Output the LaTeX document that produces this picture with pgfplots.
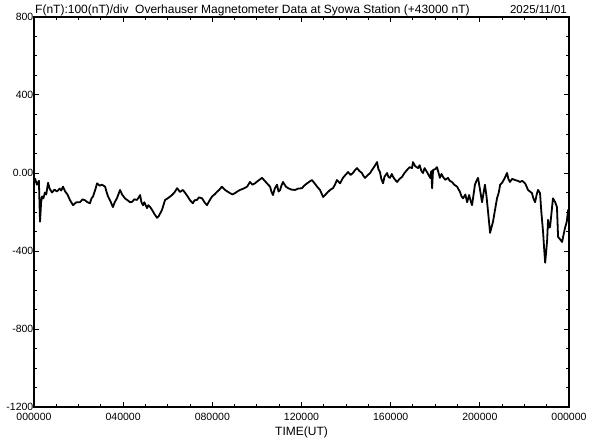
\documentclass[border=0pt]{standalone}
\usepackage{fontspec}
\setmainfont{Liberation Sans}
\usepackage{pgfplots}
\pgfplotsset{compat=1.18}

\begin{document}
\begin{tikzpicture}
\begin{axis}[
  name=ax,
  scale only axis,
  width=535pt, height=390pt,
  xmin=0, xmax=24, ymin=-1200, ymax=800,
  axis line style={line width=1.4pt},
  tick style={black, line width=1pt},
  tick align=inside,
  major tick length=5pt, minor tick length=3.5pt,
  xtick={0,4,8,12,16,20,24},
  xticklabels={000000,040000,080000,120000,160000,200000,000000},
  minor xtick={1,2,3,5,6,7,9,10,11,13,14,15,17,18,19,21,22,23},
  ytick={-1200,-800,-400,0,400,800},
  yticklabels={-1200,-800,-400,0.00,400,800},
  minor ytick={-1100,-1000,-900,-700,-600,-500,-300,-200,-100,100,200,300,500,600,700},
  xtick pos=both, ytick pos=both,
  xticklabel style={font=\fontsize{10.5}{12}\selectfont, inner sep=1pt, yshift=-5pt},
  yticklabel style={font=\fontsize{10.5}{12}\selectfont, inner sep=0.5pt},
  xlabel={TIME(UT)},
  xlabel style={font=\fontsize{12}{13}\selectfont, inner sep=0pt, yshift=-5pt},
]
\addplot[black, line width=1.8pt, line join=round] coordinates {
(0,-46)(0.05,-30)(0.13,-60)(0.22,-40)(0.27,-250)(0.32,-150)(0.36,-120)(0.42,-130)(0.49,-100)(0.55,-110)(0.63,-50)(0.7,-80)(0.81,-100)
(0.92,-85)(1.03,-95)(1.15,-80)(1.22,-90)(1.30,-70)(1.4,-95)(1.5,-110)(1.62,-140)(1.75,-165)(1.9,-150)(2.06,-150)(2.18,-135)(2.29,-140)(2.4,-150)(2.51,-155)(2.58,-130)(2.65,-120)
(2.75,-85)(2.83,-53)(2.95,-65)(3.05,-60)(3.19,-70)(3.25,-95)(3.32,-120)(3.45,-150)(3.54,-175)(3.62,-150)(3.72,-130)(3.86,-87)(3.95,-110)(4.08,-130)(4.2,-140)(4.31,-150)
(4.40,-148)(4.5,-135)(4.62,-138)(4.7,-125)(4.76,-113)(4.82,-150)(4.89,-165)(4.95,-150)(5.07,-180)(5.13,-165)(5.20,-173)(5.3,-190)(5.4,-210)(5.52,-230)(5.6,-220)(5.74,-190)(5.88,-138)
(6.0,-130)(6.19,-113)(6.3,-100)(6.42,-78)(6.55,-97)(6.68,-87)(6.8,-105)(6.91,-123)(7.0,-140)(7.13,-155)(7.2,-140)(7.31,-138)(7.4,-125)(7.54,-130)(7.65,-150)(7.76,-165)
(7.88,-140)(7.99,-120)(8.1,-110)(8.21,-97)(8.32,-85)(8.43,-70)(8.57,-87)(8.68,-95)(8.79,-103)(8.9,-110)(9.02,-103)(9.12,-95)(9.24,-87)(9.4,-80)(9.56,-70)(9.69,-46)
(9.8,-60)(9.91,-53)(10.05,-40)(10.23,-25)(10.35,-40)(10.45,-53)(10.59,-70)(10.65,-95)(10.72,-113)(10.8,-80)(10.90,-60)(10.97,-95)(11.04,-87)(11.1,-65)(11.17,-46)(11.3,-70)(11.40,-78)
(11.55,-85)(11.71,-87)(11.85,-80)(12.02,-78)(12.12,-65)(12.25,-53)(12.35,-45)(12.47,-36)(12.6,-55)(12.70,-70)(12.83,-87)(12.97,-123)(13.08,-110)(13.19,-97)(13.3,-85)(13.41,-78)
(13.5,-60)(13.59,-36)(13.73,-53)(13.86,-25)(13.97,-10)(14.09,5)(14.2,-10)(14.31,0)(14.4,15)(14.49,25)(14.6,10)(14.71,0)(14.78,-15)(14.85,-25)(14.98,-10)
(15.08,0)(15.16,15)(15.28,35)(15.39,56)(15.45,20)(15.52,5)(15.58,-30)(15.66,-53)(15.72,-20)(15.84,0)(15.9,-20)(15.97,-25)(16.05,-5)(16.11,-20)(16.2,-35)(16.29,-46)(16.4,-30)(16.51,-20)
(16.62,0)(16.73,15)(16.85,30)(16.96,25)(17.00,56)(17.1,35)(17.23,25)(17.3,40)(17.38,10)(17.45,0)(17.52,25)(17.63,5)(17.7,-10)(17.77,-25)(17.82,10)(17.86,-78)(17.90,15)
(18.0,20)(18.08,30)(18.15,0)(18.21,-25)(18.28,-5)(18.35,-20)(18.45,-35)(18.57,-25)(18.65,-40)(18.75,-46)(18.85,-60)(18.98,-70)(19.05,-85)(19.11,-97)(19.18,-120)(19.25,-130)(19.35,-110)(19.43,-150)
(19.52,-113)(19.58,-140)(19.65,-165)(19.72,-110)(19.78,-60)(19.85,-40)(19.92,-25)(20.0,-80)(20.10,-150)(20.17,-100)(20.23,-60)(20.3,-120)(20.37,-200)(20.46,-307)(20.52,-280)(20.59,-250)
(20.68,-190)(20.77,-130)(20.85,-100)(20.91,-60)(21.0,-50)(21.1,-30)(21.22,0)(21.28,-30)(21.35,-46)(21.45,-30)(21.58,-36)(21.7,-40)(21.80,-46)(21.9,-40)(22.03,-53)(22.1,-70)(22.16,-87)(22.25,-95)(22.34,-103)
(22.4,-130)(22.48,-150)(22.55,-110)(22.61,-87)(22.70,-103)(22.76,-200)(22.84,-307)(22.88,-380)(22.93,-460)(22.98,-400)(23.02,-343)(23.06,-240)(23.1,-280)(23.15,-277)(23.22,-200)(23.28,-130)
(23.38,-150)(23.46,-175)(23.51,-328)(23.6,-340)(23.69,-354)(23.75,-320)(23.82,-282)(23.9,-250)(23.96,-190)(24,-200)
};
\end{axis}
\node[anchor=base west, inner sep=0pt, font=\fontsize{12}{13}\selectfont]
  at ([xshift=1pt,yshift=3pt]ax.north west)
  {F(nT):100(nT)/div\ \ Overhauser Magnetometer Data at Syowa Station (+43000 nT)};
\node[anchor=base east, inner sep=0pt, font=\fontsize{11.5}{13}\selectfont]
  at ([xshift=-2pt,yshift=3pt]ax.north east) {2025/11/01};
\pgfresetboundingbox
\path[use as bounding box] ([xshift=-34pt,yshift=-33pt]ax.south west) rectangle ([xshift=23pt,yshift=17pt]ax.north east);
\end{tikzpicture}
\end{document}
